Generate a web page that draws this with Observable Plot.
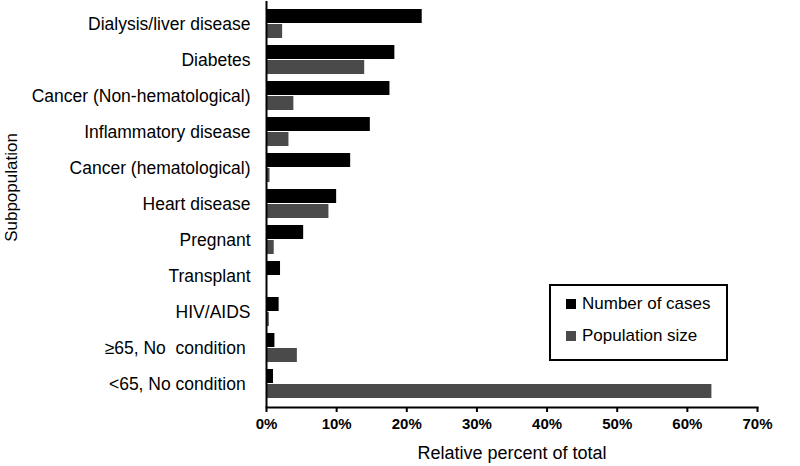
<!DOCTYPE html>
<html>
<head>
<meta charset="utf-8">
<script src="https://cdn.jsdelivr.net/npm/d3@7"></script>
<script src="https://cdn.jsdelivr.net/npm/@observablehq/plot@0.6"></script>
<style>
  html, body { margin: 0; padding: 0; background: #fff; }
  #wrap { position: relative; width: 800px; height: 466px; font-family: "Liberation Sans", Arial, sans-serif; }
  #legend { position: absolute; left: 549px; top: 284px; width: 175px; height: 73px; border: 2px solid #000; background: #fff; }
  .item { position: absolute; left: 15px; font-size: 17px; color: #000; white-space: nowrap; }
  .sw { display: inline-block; width: 10px; height: 10px; margin-right: 6px; vertical-align: 0px; }
</style>
</head>
<body>
<div id="wrap"></div>
<script>
const categories = [
  "Dialysis/liver disease",
  "Diabetes",
  "Cancer (Non-hematological)",
  "Inflammatory disease",
  "Cancer (hematological)",
  "Heart disease",
  "Pregnant",
  "Transplant",
  "HIV/AIDS",
  "≥65, No\u00a0 condition\u00a0",
  "<65, No condition\u00a0"
];
const numberOfCases = [22.2, 18.3, 17.6, 14.8, 12.0, 10.0, 5.3, 2.0, 1.8, 1.2, 1.0];
const populationSize = [2.3, 14.0, 3.9, 3.2, 0.5, 8.9, 1.1, 0.05, 0.4, 4.4, 63.5];
const seriesNames = ["Number of cases", "Population size"];
const seriesColors = ["#000000", "#4a4a4a"];
const xTicks = [0, 10, 20, 30, 40, 50, 60, 70];
const xLabel = "Relative percent of total";
const yLabel = "Subpopulation";

const rows = categories.map((c, i) => ({category: c, cases: numberOfCases[i], population: populationSize[i]}));

const chart = Plot.plot({
  width: 800,
  height: 466,
  marginLeft: 266,
  marginRight: 43,
  marginTop: 1,
  marginBottom: 59,
  style: {fontFamily: '"Liberation Sans", Arial, sans-serif', color: "#000", background: "#fff"},
  x: {domain: [0, 70], ticks: xTicks, tickFormat: d => d + "%", label: null},
  y: {domain: categories, paddingInner: 0.19, paddingOuter: 0.09, label: null},
  marks: [
    Plot.barX(rows, {x: "population", y: "category", fill: seriesColors[1], insetTop: 15}),
    Plot.barX(rows, {x: "cases", y: "category", fill: seriesColors[0], insetBottom: 15}),
    Plot.axisY({tickSize: 0, tickPadding: 16, fontSize: 17.5, label: null}),
    Plot.axisX({ticks: xTicks, tickFormat: d => d + "%", tickSize: 5, tickPadding: 6, fontSize: 15, fontWeight: "bold", label: null, strokeWidth: 2}),
    Plot.ruleX([0], {strokeWidth: 2}),
    Plot.frame({anchor: "bottom", strokeWidth: 2}),
    Plot.text([xLabel], {frameAnchor: "bottom", dy: 46, fontSize: 18, lineAnchor: "middle"}),
    Plot.text([yLabel], {frameAnchor: "left", textAnchor: "middle", dx: -255, dy: -17, rotate: -90, fontSize: 17, lineAnchor: "middle"})
  ]
});

const wrap = document.getElementById("wrap");
wrap.appendChild(chart);

const legend = document.createElement("div");
legend.id = "legend";
seriesNames.forEach((name, i) => {
  const item = document.createElement("div");
  item.className = "item";
  item.style.top = (i === 0 ? 8 : 40) + "px";
  const sw = document.createElement("span");
  sw.className = "sw";
  sw.style.background = seriesColors[i];
  item.appendChild(sw);
  item.appendChild(document.createTextNode(name));
  legend.appendChild(item);
});
wrap.appendChild(legend);
</script>
</body>
</html>
